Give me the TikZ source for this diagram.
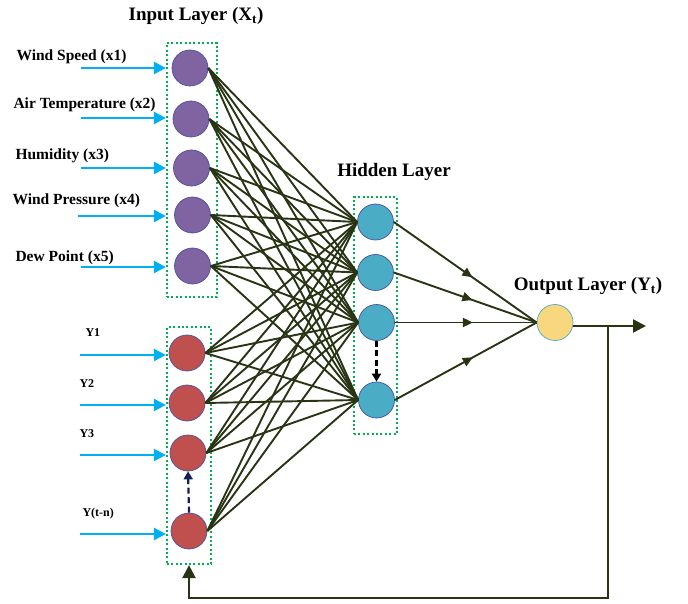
\documentclass[tikz,border=0pt]{standalone}
\usepackage{fontspec}
\setmainfont{Liberation Serif}
\usetikzlibrary{arrows.meta,decorations.markings}

\definecolor{inpurple}{RGB}{128,100,162}
\definecolor{lagred}{RGB}{192,80,77}
\definecolor{hidblue}{RGB}{75,172,198}
\definecolor{outgold}{RGB}{249,215,126}
\definecolor{rimblue}{RGB}{70,80,160}
\definecolor{wire}{RGB}{40,52,20}
\definecolor{feedblue}{RGB}{0,176,240}
\definecolor{boxgreen}{RGB}{0,176,80}
\definecolor{navy}{RGB}{20,30,90}

\begin{document}
\begin{tikzpicture}[x=1pt, y=-1pt,
    neuron/.style={circle, draw=rimblue, line width=0.7pt, minimum size=36pt, inner sep=0pt},
    layerbox/.style={draw=boxgreen, line width=2.2pt, dash pattern=on 2pt off 2.4pt, inner sep=0pt},
    weight/.style={draw=wire, line width=1.9pt},
    feed/.style={draw=feedblue, line width=2.4pt, -{Triangle[length=12pt,width=12pt]}},
    midarrow/.style={decoration={markings, mark=at position 0.55 with {\arrow{Triangle[length=10pt,width=9pt]}}}, postaction={decorate}},
    title/.style={font=\bfseries\fontsize{19}{22}\selectfont},
    inlabel/.style={anchor=west, font=\bfseries\fontsize{15.5}{18}\selectfont},
    laglabel/.style={anchor=west, font=\bfseries\fontsize{12}{14}\selectfont}]
    \useasboundingbox (0,0) rectangle (688,604);

    % Layer boxes
    \node[layerbox, minimum width=50pt, minimum height=254pt] (inbox) at (192,170) {};
    \node[layerbox, minimum width=44pt, minimum height=237pt] (lagbox) at (189,445.5) {};
    \node[layerbox, minimum width=43pt, minimum height=237pt] (hidbox) at (375.5,315.5) {};

    % Input neurons
    \node[neuron, fill=inpurple] (in1) at (190,68) {};
    \node[neuron, fill=inpurple] (in2) at (191,119) {};
    \node[neuron, fill=inpurple] (in3) at (191.5,168) {};
    \node[neuron, fill=inpurple] (in4) at (192.5,215) {};
    \node[neuron, fill=inpurple] (in5) at (192.5,266) {};

    % Lagged outputs
    \node[neuron, fill=lagred] (y1) at (187,353) {};
    \node[neuron, fill=lagred] (y2) at (187,403) {};
    \node[neuron, fill=lagred] (y3) at (188,453) {};
    \node[neuron, fill=lagred] (y4) at (189,531) {};

    % Hidden neurons
    \node[neuron, fill=hidblue] (h1) at (375.5,222) {};
    \node[neuron, fill=hidblue] (h2) at (375.5,272.5) {};
    \node[neuron, fill=hidblue] (h3) at (376.5,322.5) {};
    \node[neuron, fill=hidblue] (h4) at (376.5,400) {};

    % Output neuron
    \node[neuron, fill=outgold, draw=hidblue] (out) at (555,322.5) {};

    % Titles
    \node[title] (intitle) at (196,16) {Input Layer (X\textsubscript{t})};
    \node[title] (hidtitle) at (394,172) {Hidden Layer};
    \node[title] (outtitle) at (588,286) {Output Layer (Y\textsubscript{t})};

    % Input labels and arrows
    \node[inlabel] (l1) at (13,57) {Wind Speed (x1)};
    \node[inlabel] (l2) at (10,105) {Air Temperature (x2)};
    \node[inlabel] (l3) at (12,156) {Humidity (x3)};
    \node[inlabel] (l4) at (9,201) {Wind Pressure (x4)};
    \node[inlabel] (l5) at (12,258) {Dew Point (x5)};
    \node[laglabel] (m1) at (82,333) {Y1};
    \node[laglabel] (m2) at (76,384) {Y2};
    \node[laglabel] (m3) at (76,434) {Y3};
    \node[laglabel] (m4) at (79,514) {Y(t-n)};

    \coordinate (s1) at (81,68);
    \coordinate (s2) at (81,118);
    \coordinate (s3) at (81,168);
    \coordinate (s4) at (78,216);
    \coordinate (s5) at (81,267);
    \coordinate (t1) at (80,355);
    \coordinate (t2) at (80,405);
    \coordinate (t3) at (80,455);
    \coordinate (t4) at (80,534);
    \draw[feed] (s1) -- (s1 -| inbox.west);
    \draw[feed] (s2) -- (s2 -| inbox.west);
    \draw[feed] (s3) -- (s3 -| inbox.west);
    \draw[feed] (s4) -- (s4 -| inbox.west);
    \draw[feed] (s5) -- (s5 -| inbox.west);
    \draw[feed] (t1) -- (t1 -| lagbox.west);
    \draw[feed] (t2) -- (t2 -| lagbox.west);
    \draw[feed] (t3) -- (t3 -| lagbox.west);
    \draw[feed] (t4) -- (t4 -| lagbox.west);

    % Weights input -> hidden
    \foreach \i in {in1,in2,in3,in4,in5,y1,y2,y3,y4}
        \foreach \j in {h1,h2,h3,h4}
            \draw[weight] (\i.east) -- (\j.west);

    % Hidden -> output
    \foreach \j in {h1,h2,h3,h4}
        \draw[weight, midarrow] (\j.east) -- (out.west);

    % Dashed skips
    \draw[navy, line width=2.2pt, dash pattern=on 6pt off 3.5pt, -{Triangle[length=8pt,width=9pt]}] (y4.north) -- (y3.south);
    \draw[black, line width=2.2pt, dash pattern=on 6pt off 3.5pt, -{Triangle[length=8pt,width=9pt]}] (h3.south) -- (h4.north);

    % Output and feedback
    \coordinate (yend) at (646,326);
    \coordinate (tap) at (608,326);
    \coordinate (low) at (598,598);
    \draw[wire, line width=2.4pt, -{Triangle[length=13pt,width=13pt]}] (out.east |- yend) -- (yend);
    \draw[wire, line width=2.4pt, -{Triangle[length=13pt,width=13pt]}] (tap) -- (tap |- low) -| (lagbox.south);
\end{tikzpicture}
\end{document}
